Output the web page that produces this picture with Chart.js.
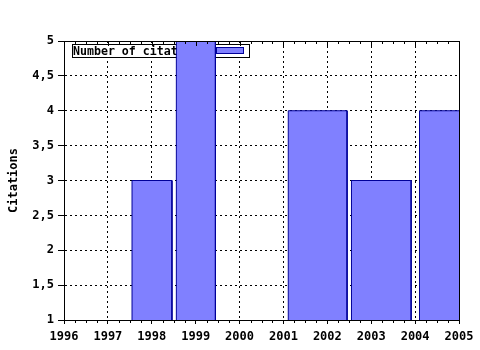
<!DOCTYPE html>
<html><head><meta charset="utf-8">
<script src="https://cdn.jsdelivr.net/npm/chart.js@4"></script>
<style>html,body{margin:0;padding:0;background:#fff}#wrap{width:480px;height:350px}</style>
</head><body><div id="wrap"><canvas id="c" width="480" height="350"></canvas></div>
<script>
// ---- data ----
const seriesLabel = 'Number of citations';
const barStart = [1997.55, 1998.56, 2001.11, 2002.55, 2004.10];
const barEnd   = [1998.46, 1999.45, 2002.45, 2003.91, 2005.45];
const citations = [3, 5, 4, 3, 4];
const xTicks = [1996, 1997, 1998, 1999, 2000, 2001, 2002, 2003, 2004, 2005];
const yTicks = [1, 1.5, 2, 2.5, 3, 3.5, 4, 4.5, 5];
const yTitle = 'Citations';

const FONT = {family: '"DejaVu Sans Mono", "Liberation Mono", monospace', size: 12, weight: 'bold'};
const FILL = '#8080ff';
const EDGE = '#000099';

const datasets = citations.map((v, i) => ({
  type: 'line',
  label: seriesLabel,
  data: [
    {x: barStart[i], y: yTicks[0]},
    {x: barStart[i], y: v},
    {x: barEnd[i], y: v},
    {x: barEnd[i], y: yTicks[0]}
  ],
  fill: 'start',
  backgroundColor: FILL,
  borderColor: EDGE,
  borderWidth: 1,
  pointRadius: 0,
  tension: 0
}));

const edgeColor = (ctx, arr) => {
  const v = ctx.tick ? ctx.tick.value : null;
  return (v === arr[0] || v === arr[arr.length - 1]) ? 'rgba(0,0,0,0)' : '#000';
};

const framePlugin = {
  id: 'frame',
  beforeDatasetsDraw(chart) {
    const {ctx, chartArea: a} = chart;
    ctx.save();
    // legend box (drawn beneath the bars)
    const bx = a.left + 8, by = a.top + 3, bw = 177, bh = 13;
    ctx.fillStyle = '#fff';
    ctx.fillRect(bx, by, bw, bh);
    ctx.strokeStyle = '#000';
    ctx.lineWidth = 1;
    ctx.strokeRect(bx + 0.5, by + 0.5, bw, bh);
    ctx.fillStyle = '#000';
    ctx.font = 'bold 11.6px "DejaVu Sans Mono", monospace';
    ctx.textBaseline = 'middle';
    ctx.textAlign = 'left';
    ctx.fillText(seriesLabel, bx + 1, by + bh / 2 + 1);
    ctx.fillStyle = FILL;
    ctx.fillRect(bx + 144, by + 3, 27, 6);
    ctx.strokeStyle = EDGE;
    ctx.strokeRect(bx + 144.5, by + 3.5, 27, 6);
    ctx.restore();
  },
  afterDraw(chart) {
    const {ctx, chartArea: a, scales} = chart;
    const xs = scales.x;
    ctx.save();
    ctx.strokeStyle = '#000';
    ctx.lineWidth = 1;
    ctx.beginPath();
    // top and right border
    ctx.moveTo(a.left, Math.round(a.top) + 0.5);
    ctx.lineTo(a.right + 1, Math.round(a.top) + 0.5);
    ctx.moveTo(Math.round(a.right) + 0.5, a.top);
    ctx.lineTo(Math.round(a.right) + 0.5, a.bottom + 1);
    // minor and mirrored ticks
    for (let i = 0; i < xTicks.length; i++) {
      for (let q = 0; q < 4; q++) {
        const v = xTicks[i] + q * 0.25;
        if (v > xTicks[xTicks.length - 1]) break;
        const px = Math.round(xs.getPixelForValue(v)) + 0.5;
        const major = q === 0;
        ctx.moveTo(px, a.top);
        ctx.lineTo(px, a.top + (major ? 5 : 3));
        if (!major) {
          ctx.moveTo(px, a.bottom);
          ctx.lineTo(px, a.bottom + 3);
        }
      }
    }
    ctx.stroke();
    ctx.restore();
  }
};

new Chart(document.getElementById('c'), {
  type: 'line',
  data: {datasets},
  plugins: [framePlugin],
  options: {
    responsive: false,
    animation: false,
    devicePixelRatio: 1,
    layout: {padding: {top: 41, right: 21, left: 0, bottom: 0}},
    plugins: {legend: {display: false}, tooltip: {enabled: false}},
    scales: {
      x: {
        type: 'linear',
        min: xTicks[0],
        max: xTicks[xTicks.length - 1],
        afterBuildTicks: s => { s.ticks = xTicks.map(v => ({value: v})); },
        afterFit: s => { s.height = 30; },
        ticks: {
          font: FONT, color: '#000', padding: 6, maxRotation: 0, autoSkip: false,
          callback: v => String(v)
        },
        grid: {color: ctx => edgeColor(ctx, xTicks), tickColor: '#000', lineWidth: 1, tickLength: 4},
        border: {color: '#000', width: 1, dash: [2, 3]}
      },
      y: {
        type: 'linear',
        min: yTicks[0],
        max: yTicks[yTicks.length - 1],
        afterBuildTicks: s => { s.ticks = yTicks.map(v => ({value: v})); },
        afterFit: s => { s.width = 64; },
        ticks: {
          font: FONT, color: '#000', padding: 4,
          callback: v => String(v).replace('.', ',')
        },
        title: {display: true, text: yTitle, font: FONT, color: '#000', padding: {top: 7, bottom: 0}},
        grid: {color: ctx => edgeColor(ctx, yTicks), tickColor: '#000', lineWidth: 1, tickLength: 6},
        border: {color: '#000', width: 1, dash: [2, 3]}
      }
    }
  }
});
</script>
</body></html>
